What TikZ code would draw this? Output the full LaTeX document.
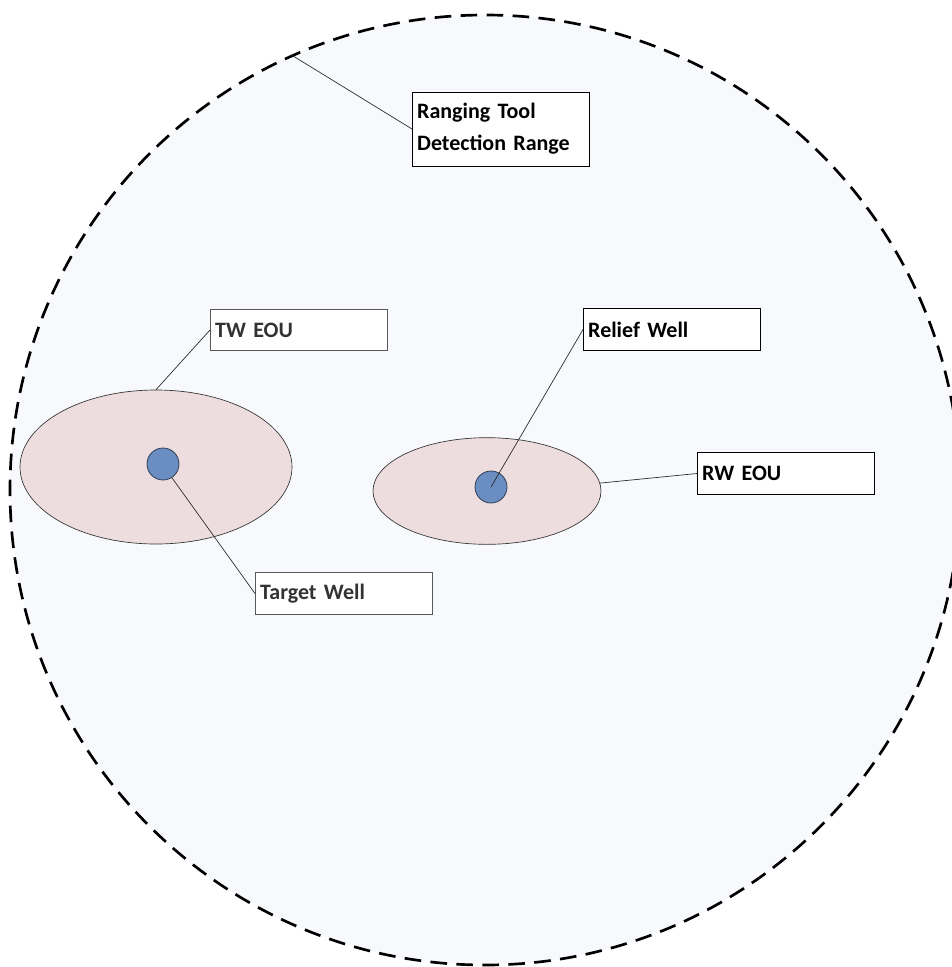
\documentclass[tikz,border=0pt]{standalone}
\usepackage{fontspec}
\setmainfont{Carlito}
\usetikzlibrary{shapes.geometric, positioning}
\definecolor{rangebg}{HTML}{F7F9FC}
\definecolor{eoufill}{HTML}{EEDDDE}
\definecolor{wellfill}{HTML}{6B8EC2}
\definecolor{welldraw}{HTML}{2F3E55}
\definecolor{boxdraw}{HTML}{595959}
\tikzset{
  % campo di rilevamento dello strumento
  rangecircle/.style={circle, draw=black, line width=2pt,
    dash pattern=on 12.5pt off 7pt, fill=rangebg, minimum size=712.5pt,
    inner sep=0pt},
  % ellisse di incertezza
  eou/.style={ellipse, draw=black!80, line width=0.5pt, fill=eoufill,
    inner sep=0pt},
  % pozzo
  well/.style={circle, draw=welldraw, line width=0.6pt, fill=wellfill,
    minimum size=24pt, inner sep=0pt},
  % etichetta in scatola
  tag/.style={draw=boxdraw, line width=0.75pt, fill=white, minimum height=31pt,
    text width=126pt, inner xsep=3.5pt, align=left, anchor=west,
    font=\bfseries\fontsize{16.5}{24}\selectfont},
  % linea di richiamo
  callout/.style={line width=0.5pt, black!85},
}
\begin{document}
\begin{tikzpicture}[x=0.75pt, y=-0.75pt]
  \useasboundingbox (0,0) rectangle (952,967);
  \node[rangecircle] (range) at (485,490) {};
  \node[eou, minimum width=204pt, minimum height=115.5pt] (twe) at (156,467) {};
  \node[well] (tw) at (163,464) {};
  \node[eou, minimum width=171pt, minimum height=80pt] (rwe) at (487,491) {};
  \node[well] (rw) at (491,487) {};
  \node[tag, draw=black, minimum height=55.5pt] (rangelbl) at (412,129) {Ranging Tool\\Detection Range};
  \node[tag, text=black!80] (tweou) at (210,330) {TW EOU};
  \node[tag, text=black!80] (twlbl) at (255,593.5) {Target Well};
  \node[tag, draw=black] (rwlbl) at (583,329.5) {Relief Well};
  \node[tag, draw=black] (rweou) at (697,473.5) {RW EOU};
  \draw[callout] (range.114.5) -- (rangelbl.west);
  \draw[callout] (twe.north) -- (tweou.west);
  \draw[callout] (tw.-57) -- (twlbl.west);
  \draw[callout] (rw.center) -- (rwlbl.west);
  \draw[callout] (rwe.4) -- (rweou.west);
\end{tikzpicture}
\end{document}
